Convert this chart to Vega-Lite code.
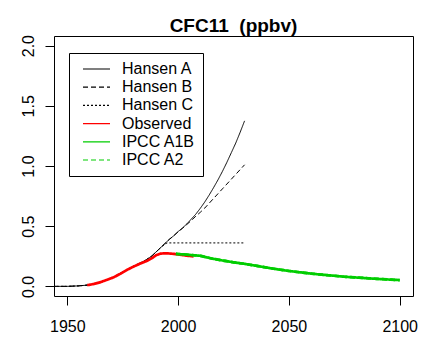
{
  "$schema": "https://vega.github.io/schema/vega-lite/v6.json",
  "width": 359,
  "height": 260,
  "autosize": {"type": "none"},
  "padding": {"left": 54, "top": 36, "right": 18, "bottom": 54},
  "background": "white",
  "title": {
    "text": "CFC11\u00a0 (ppbv)",
    "font": "Liberation Sans",
    "fontSize": 19,
    "fontWeight": "bold",
    "color": "black",
    "anchor": "middle",
    "frame": "group",
    "baseline": "alphabetic",
    "offset": 5,
    "dy": 21
  },
  "config": {
    "view": {"stroke": "black", "strokeWidth": 1},
    "axis": {
      "grid": false,
      "domain": false,
      "ticks": true,
      "tickColor": "black",
      "tickSize": 9,
      "tickWidth": 1,
      "labelFont": "Liberation Sans",
      "labelFontSize": 16,
      "labelColor": "black",
      "labelFlush": false,
      "labelOverlap": false,
      "title": null
    },
    "legend": {
      "orient": "none",
      "legendX": 15,
      "legendY": 17,
      "padding": 8,
      "symbolType": "stroke",
      "symbolSize": 729,
      "symbolStrokeWidth": 1.2,
      "symbolOffset": 5,
      "labelOffset": 11,
      "labelFont": "Liberation Sans",
      "labelFontSize": 16,
      "labelColor": "black",
      "strokeColor": "black",
      "fillColor": "white",
      "clipHeight": 16,
      "rowPadding": 2.2,
      "cornerRadius": 0,
      "title": null
    }
  },
  "datasets": {
    "hansen": [
      {"series": "Hansen A", "year": 1940, "value": 0},
      {"series": "Hansen A", "year": 1950, "value": 0},
      {"series": "Hansen A", "year": 1955, "value": 0.004},
      {"series": "Hansen A", "year": 1960, "value": 0.012},
      {"series": "Hansen A", "year": 1965, "value": 0.033},
      {"series": "Hansen A", "year": 1970, "value": 0.068},
      {"series": "Hansen A", "year": 1975, "value": 0.12},
      {"series": "Hansen A", "year": 1980, "value": 0.168},
      {"series": "Hansen A", "year": 1983, "value": 0.195},
      {"series": "Hansen A", "year": 1985, "value": 0.213},
      {"series": "Hansen A", "year": 1988, "value": 0.25},
      {"series": "Hansen A", "year": 1990, "value": 0.285},
      {"series": "Hansen A", "year": 1992, "value": 0.32},
      {"series": "Hansen A", "year": 1994, "value": 0.355},
      {"series": "Hansen A", "year": 1996, "value": 0.39},
      {"series": "Hansen A", "year": 1998, "value": 0.42},
      {"series": "Hansen A", "year": 2000, "value": 0.455},
      {"series": "Hansen A", "year": 2002, "value": 0.485},
      {"series": "Hansen A", "year": 2004, "value": 0.52},
      {"series": "Hansen A", "year": 2006, "value": 0.56},
      {"series": "Hansen A", "year": 2008, "value": 0.6},
      {"series": "Hansen A", "year": 2010, "value": 0.648},
      {"series": "Hansen A", "year": 2012, "value": 0.7},
      {"series": "Hansen A", "year": 2014, "value": 0.758},
      {"series": "Hansen A", "year": 2016, "value": 0.82},
      {"series": "Hansen A", "year": 2018, "value": 0.885},
      {"series": "Hansen A", "year": 2020, "value": 0.955},
      {"series": "Hansen A", "year": 2022, "value": 1.03},
      {"series": "Hansen A", "year": 2024, "value": 1.11},
      {"series": "Hansen A", "year": 2026, "value": 1.19},
      {"series": "Hansen A", "year": 2028, "value": 1.28},
      {"series": "Hansen A", "year": 2030, "value": 1.375},
      {"series": "Hansen B", "year": 1940, "value": 0},
      {"series": "Hansen B", "year": 1950, "value": 0},
      {"series": "Hansen B", "year": 1955, "value": 0.004},
      {"series": "Hansen B", "year": 1960, "value": 0.012},
      {"series": "Hansen B", "year": 1965, "value": 0.033},
      {"series": "Hansen B", "year": 1970, "value": 0.068},
      {"series": "Hansen B", "year": 1975, "value": 0.12},
      {"series": "Hansen B", "year": 1980, "value": 0.168},
      {"series": "Hansen B", "year": 1983, "value": 0.195},
      {"series": "Hansen B", "year": 1985, "value": 0.213},
      {"series": "Hansen B", "year": 1988, "value": 0.25},
      {"series": "Hansen B", "year": 1990, "value": 0.285},
      {"series": "Hansen B", "year": 1992, "value": 0.32},
      {"series": "Hansen B", "year": 1994, "value": 0.355},
      {"series": "Hansen B", "year": 1996, "value": 0.39},
      {"series": "Hansen B", "year": 1998, "value": 0.42},
      {"series": "Hansen B", "year": 2000, "value": 0.453},
      {"series": "Hansen B", "year": 2002, "value": 0.483},
      {"series": "Hansen B", "year": 2004, "value": 0.515},
      {"series": "Hansen B", "year": 2006, "value": 0.548},
      {"series": "Hansen B", "year": 2008, "value": 0.583},
      {"series": "Hansen B", "year": 2010, "value": 0.615},
      {"series": "Hansen B", "year": 2012, "value": 0.65},
      {"series": "Hansen B", "year": 2014, "value": 0.69},
      {"series": "Hansen B", "year": 2016, "value": 0.73},
      {"series": "Hansen B", "year": 2018, "value": 0.77},
      {"series": "Hansen B", "year": 2020, "value": 0.81},
      {"series": "Hansen B", "year": 2022, "value": 0.85},
      {"series": "Hansen B", "year": 2024, "value": 0.89},
      {"series": "Hansen B", "year": 2026, "value": 0.93},
      {"series": "Hansen B", "year": 2028, "value": 0.97},
      {"series": "Hansen B", "year": 2030, "value": 1.01},
      {"series": "Hansen C", "year": 1940, "value": 0},
      {"series": "Hansen C", "year": 1950, "value": 0},
      {"series": "Hansen C", "year": 1955, "value": 0.004},
      {"series": "Hansen C", "year": 1960, "value": 0.012},
      {"series": "Hansen C", "year": 1965, "value": 0.033},
      {"series": "Hansen C", "year": 1970, "value": 0.068},
      {"series": "Hansen C", "year": 1975, "value": 0.12},
      {"series": "Hansen C", "year": 1980, "value": 0.168},
      {"series": "Hansen C", "year": 1983, "value": 0.195},
      {"series": "Hansen C", "year": 1985, "value": 0.213},
      {"series": "Hansen C", "year": 1988, "value": 0.25},
      {"series": "Hansen C", "year": 1990, "value": 0.285},
      {"series": "Hansen C", "year": 1992, "value": 0.32},
      {"series": "Hansen C", "year": 1994, "value": 0.35},
      {"series": "Hansen C", "year": 1995, "value": 0.361},
      {"series": "Hansen C", "year": 2000, "value": 0.361},
      {"series": "Hansen C", "year": 2010, "value": 0.361},
      {"series": "Hansen C", "year": 2020, "value": 0.361},
      {"series": "Hansen C", "year": 2030, "value": 0.361}
    ],
    "obs": [
      {"series": "Observed", "year": 1959, "value": 0.01},
      {"series": "Observed", "year": 1962, "value": 0.02},
      {"series": "Observed", "year": 1965, "value": 0.035},
      {"series": "Observed", "year": 1968, "value": 0.055},
      {"series": "Observed", "year": 1971, "value": 0.076},
      {"series": "Observed", "year": 1974, "value": 0.105},
      {"series": "Observed", "year": 1977, "value": 0.138},
      {"series": "Observed", "year": 1980, "value": 0.165},
      {"series": "Observed", "year": 1983, "value": 0.19},
      {"series": "Observed", "year": 1986, "value": 0.212},
      {"series": "Observed", "year": 1988, "value": 0.232},
      {"series": "Observed", "year": 1990, "value": 0.258},
      {"series": "Observed", "year": 1992, "value": 0.272},
      {"series": "Observed", "year": 1994, "value": 0.275},
      {"series": "Observed", "year": 1996, "value": 0.273},
      {"series": "Observed", "year": 1998, "value": 0.27},
      {"series": "Observed", "year": 2000, "value": 0.265},
      {"series": "Observed", "year": 2002, "value": 0.26},
      {"series": "Observed", "year": 2004, "value": 0.255},
      {"series": "Observed", "year": 2007, "value": 0.249}
    ],
    "ipcc": [
      {"series": "IPCC A1B", "year": 1999, "value": 0.27},
      {"series": "IPCC A1B", "year": 2005, "value": 0.262},
      {"series": "IPCC A1B", "year": 2010, "value": 0.254},
      {"series": "IPCC A1B", "year": 2015, "value": 0.232},
      {"series": "IPCC A1B", "year": 2020, "value": 0.215},
      {"series": "IPCC A1B", "year": 2025, "value": 0.2},
      {"series": "IPCC A1B", "year": 2030, "value": 0.187},
      {"series": "IPCC A1B", "year": 2035, "value": 0.172},
      {"series": "IPCC A1B", "year": 2040, "value": 0.156},
      {"series": "IPCC A1B", "year": 2045, "value": 0.141},
      {"series": "IPCC A1B", "year": 2050, "value": 0.128},
      {"series": "IPCC A1B", "year": 2055, "value": 0.117},
      {"series": "IPCC A1B", "year": 2060, "value": 0.106},
      {"series": "IPCC A1B", "year": 2065, "value": 0.097},
      {"series": "IPCC A1B", "year": 2070, "value": 0.089},
      {"series": "IPCC A1B", "year": 2075, "value": 0.08},
      {"series": "IPCC A1B", "year": 2080, "value": 0.074},
      {"series": "IPCC A1B", "year": 2085, "value": 0.068},
      {"series": "IPCC A1B", "year": 2090, "value": 0.062},
      {"series": "IPCC A1B", "year": 2095, "value": 0.057},
      {"series": "IPCC A1B", "year": 2100, "value": 0.052},
      {"series": "IPCC A2", "year": 1999, "value": 0.27},
      {"series": "IPCC A2", "year": 2005, "value": 0.262},
      {"series": "IPCC A2", "year": 2010, "value": 0.254},
      {"series": "IPCC A2", "year": 2015, "value": 0.232},
      {"series": "IPCC A2", "year": 2020, "value": 0.215},
      {"series": "IPCC A2", "year": 2025, "value": 0.2},
      {"series": "IPCC A2", "year": 2030, "value": 0.187},
      {"series": "IPCC A2", "year": 2035, "value": 0.172},
      {"series": "IPCC A2", "year": 2040, "value": 0.156},
      {"series": "IPCC A2", "year": 2045, "value": 0.141},
      {"series": "IPCC A2", "year": 2050, "value": 0.128},
      {"series": "IPCC A2", "year": 2055, "value": 0.117},
      {"series": "IPCC A2", "year": 2060, "value": 0.106},
      {"series": "IPCC A2", "year": 2065, "value": 0.097},
      {"series": "IPCC A2", "year": 2070, "value": 0.089},
      {"series": "IPCC A2", "year": 2075, "value": 0.08},
      {"series": "IPCC A2", "year": 2080, "value": 0.074},
      {"series": "IPCC A2", "year": 2085, "value": 0.068},
      {"series": "IPCC A2", "year": 2090, "value": 0.062},
      {"series": "IPCC A2", "year": 2095, "value": 0.057},
      {"series": "IPCC A2", "year": 2100, "value": 0.052}
    ]
  },
  "encoding": {
    "x": {
      "field": "year",
      "type": "quantitative",
      "scale": {"domain": [1944, 2106], "nice": false, "zero": false},
      "axis": {"values": [1950, 2000, 2050, 2100], "format": "d", "labelBaseline": "alphabetic", "labelPadding": 26.7}
    },
    "y": {
      "field": "value",
      "type": "quantitative",
      "scale": {"domain": [-0.08, 2.08], "nice": false, "zero": false},
      "axis": {"values": [0, 0.5, 1, 1.5, 2], "format": ".1f", "labelAngle": -90, "labelAlign": "center", "labelBaseline": "alphabetic", "labelPadding": 11.7}
    },
    "color": {
      "field": "series",
      "type": "nominal",
      "scale": {
        "domain": ["Hansen A", "Hansen B", "Hansen C", "Observed", "IPCC A1B", "IPCC A2"],
        "range": ["black", "black", "black", "#ff0000", "#00cd00", "#00cd00"]
      }
    },
    "strokeDash": {
      "field": "series",
      "type": "nominal",
      "scale": {
        "domain": ["Hansen A", "Hansen B", "Hansen C", "Observed", "IPCC A1B", "IPCC A2"],
        "range": [[1, 0], [5, 3], [2, 2], [1, 0], [1, 0], [5, 3]]
      }
    }
  },
  "layer": [
    {"data": {"name": "hansen"}, "mark": {"type": "line", "strokeWidth": 1, "clip": true}},
    {"data": {"name": "obs"}, "mark": {"type": "line", "strokeWidth": 2.7, "clip": true}},
    {"data": {"name": "ipcc"}, "mark": {"type": "line", "strokeWidth": 2.7, "clip": true}}
  ]
}
